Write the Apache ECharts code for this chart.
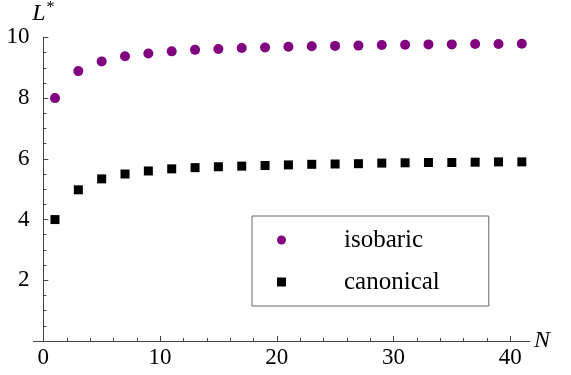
<!DOCTYPE html>
<html>
<head>
<meta charset="utf-8">
<script src="https://cdn.jsdelivr.net/npm/echarts@6/dist/echarts.min.js"></script>
<style>html,body{margin:0;padding:0;background:#fff}#c{width:571px;height:375px}</style>
</head>
<body>
<div id="c"></div>
<script>
var N = [1,3,5,7,9,11,13,15,17,19,21,23,25,27,29,31,33,35,37,39,41];
var isobaric = [8.00,8.89,9.21,9.38,9.47,9.54,9.59,9.62,9.65,9.67,9.69,9.71,9.72,9.73,9.75,9.76,9.77,9.77,9.78,9.78,9.79];
var canonical = [4.00,4.98,5.34,5.50,5.60,5.67,5.71,5.74,5.76,5.78,5.80,5.82,5.83,5.84,5.86,5.87,5.88,5.88,5.89,5.90,5.90];
var xMajor = [0,10,20,30,40];
var xMinor = [2,4,6,8,12,14,16,18,22,24,26,28,32,34,36,38];
var seriesNames = ['isobaric','canonical'];

var FONT = '"Liberation Serif", "Times New Roman", serif';
var AX = '#444';
function pairs(xs, ys){ return xs.map(function(x,i){ return [x, ys[i]]; }); }

// tick list for the custom tick series: [value, length in px]
var xTickData = xMajor.map(function(v){ return [v, 5]; }).concat(xMinor.map(function(v){ return [v, 3]; }));

var chart = echarts.init(document.getElementById('c'), null, {renderer:'canvas'});
chart.setOption({
  animation: false,
  grid: {left: 33.4, right: 41, top: 34, bottom: 34, containLabel: false},
  xAxis: {
    type: 'value', min: -0.85, max: 41.7, position: 'bottom',
    axisLine: {show: true, onZero: false, lineStyle: {color: AX, width: 1}},
    axisTick: {show: false},
    axisLabel: {show: true, customValues: xMajor, margin: 5, color: '#000', fontFamily: FONT, fontSize: 23},
    splitLine: {show: false},
    name: 'N', nameLocation: 'end', nameGap: 4,
    nameTextStyle: {fontFamily: FONT, fontStyle: 'italic', fontSize: 24, color: '#000', verticalAlign: 'middle', padding: [0,0,4,0]}
  },
  yAxis: {
    type: 'value', min: 0, max: 10, interval: 2,
    axisLine: {show: true, onZero: true, lineStyle: {color: AX, width: 1}},
    axisTick: {show: true, inside: true, length: 5, lineStyle: {color: AX}},
    minorTick: {show: true, splitNumber: 4, length: 3, lineStyle: {color: AX}},
    axisLabel: {margin: 4, color: '#000', fontFamily: FONT, fontSize: 23,
      formatter: function(v){ return v === 0 ? '' : String(v); }},
    splitLine: {show: false}, minorSplitLine: {show: false},
    name: '{l|L}{s|*}', nameLocation: 'end', nameGap: 9,
    nameTextStyle: {
      rich: {
        l: {fontFamily: FONT, fontStyle: 'italic', fontSize: 24, color: '#000', verticalAlign: 'bottom'},
        s: {fontFamily: FONT, fontSize: 16, color: '#000', verticalAlign: 'top', padding: [0,0,10,1]}
      }
    }
  },
  legend: {
    show: true, orient: 'vertical', left: 252, top: 216,
    data: [{name: seriesNames[0], icon: 'circle'}, {name: seriesNames[1], icon: 'rect'}],
    itemWidth: 9, itemHeight: 9, itemGap: 16,
    padding: [11, 49, 11, 25],
    borderColor: '#666', borderWidth: 1, borderRadius: 0,
    textStyle: {fontFamily: FONT, fontSize: 25, color: '#000', lineHeight: 26, padding: [0,0,0,53]},
    selectedMode: false
  },
  series: [{
    // upward ticks of the x axis, placed through the axis scale
    name: 'xTicks', type: 'custom', silent: true, clip: false, z: 10,
    data: xTickData,
    encode: {x: 0},
    renderItem: function(params, api){
      var p = api.coord([api.value(0), 0]);
      var len = api.value(1);
      var x = Math.round(p[0]) + 0.5;
      var y = Math.round(p[1]);
      return {
        type: 'line',
        shape: {x1: x, y1: y, x2: x, y2: y - len},
        style: {stroke: AX, lineWidth: 1}
      };
    }
  },{
    name: seriesNames[0], type: 'scatter',
    data: pairs(N, isobaric), symbol: 'circle', symbolSize: 10,
    itemStyle: {color: '#800080', opacity: 1}, z: 3
  },{
    name: seriesNames[1], type: 'scatter',
    data: pairs(N, canonical), symbol: 'rect', symbolSize: 9,
    itemStyle: {color: '#000', opacity: 1}, z: 3
  }]
});
</script>
</body>
</html>
